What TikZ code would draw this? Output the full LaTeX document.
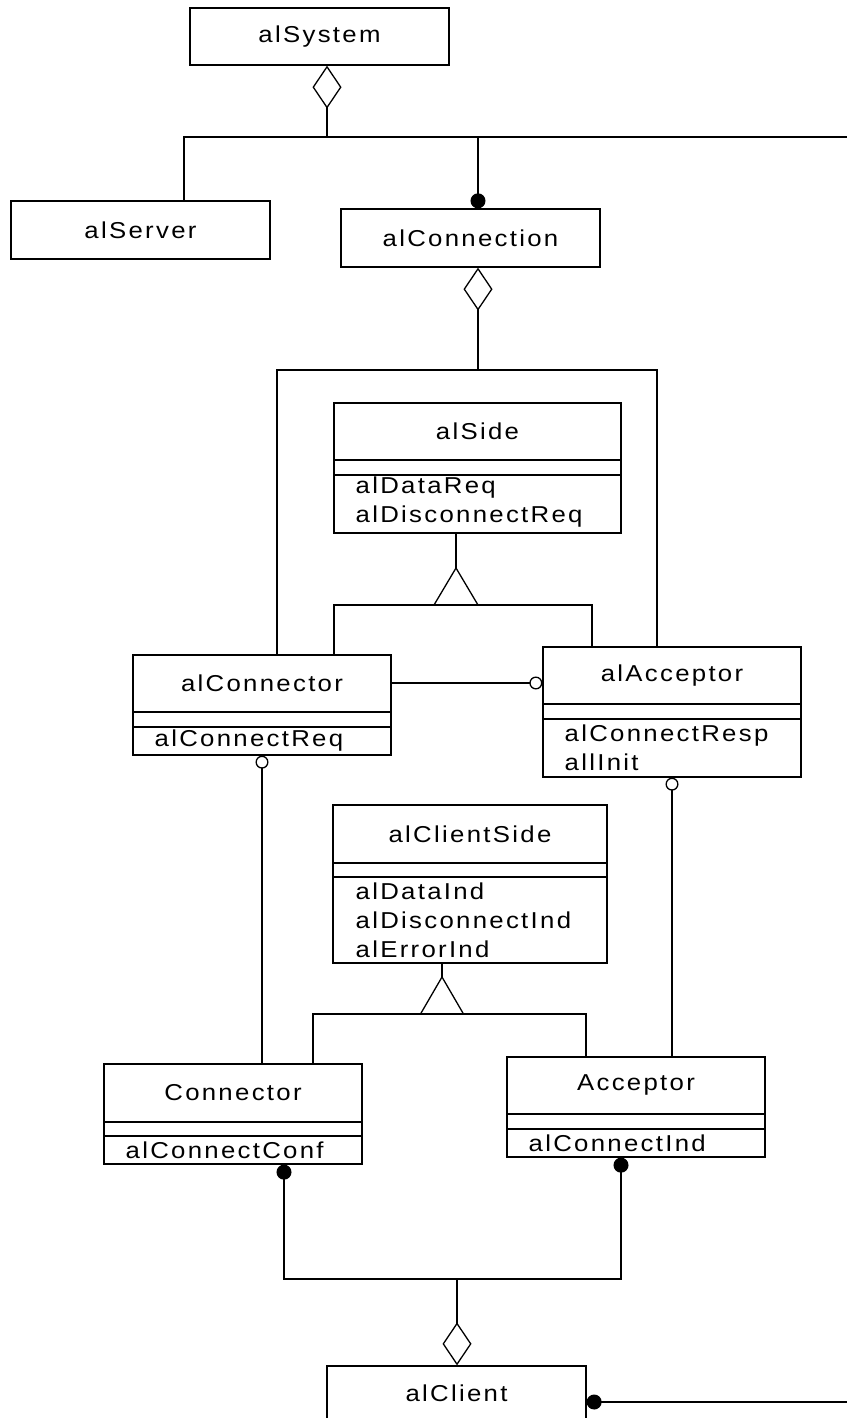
\documentclass[tikz,border=0pt]{standalone}
\usepackage{fontspec}
\setmainfont{Liberation Sans}[FakeStretch=1.12, LetterSpace=10]
\usetikzlibrary{arrows.meta}

\tikzset{
	umlbox/.style={draw, inner sep=0pt},
	opslist/.style={anchor=west, align=left, inner sep=0pt},
	aggr/.style={{Diamond[open,length=43pt,width=29pt]}-},
	comp/.style={{Circle[length=15pt,width=15pt]}-},
	dots/.style={{Circle[length=15pt,width=15pt]}-{Circle[length=15pt,width=15pt]}},
	assoc/.style={{Circle[open,length=13pt,width=13pt]}-},
}

\begin{document}
\begin{tikzpicture}[x=1pt, y=-1pt, line width=1.3pt, font=\fontsize{23}{29}\selectfont]
	\path[use as bounding box, clip] (0,0) rectangle (847,1418);

	% Nodes
	\node[umlbox, minimum width=259, minimum height=57] (sys) at (319.5,36.5) {alSystem};
	\node[umlbox, minimum width=259, minimum height=58] (srv) at (140.5,230) {alServer};
	\node[umlbox, minimum width=259, minimum height=58] (con) at (470.5,238) {alConnection};

	\node[umlbox, minimum width=287, minimum height=130] (side) at (477.5,468) {};
	\node (side-t) at (477.5,431) {alSide};
	\node[opslist] (side-o) at (355,502.5) {alDataReq\\alDisconnectReq};

	\node[umlbox, minimum width=258, minimum height=100] (ctor) at (262,705) {};
	\node (ctor-t) at (262,683) {alConnector};
	\node[opslist] (ctor-o) at (154,741) {alConnectReq};

	\node[umlbox, minimum width=258, minimum height=130] (acc) at (672,712) {};
	\node (acc-t) at (672,676) {alAcceptor};
	\node[opslist] (acc-o) at (564,747.5) {alConnectResp\\allInit};

	\node[umlbox, minimum width=274, minimum height=158] (cside) at (470,884) {};
	\node (cside-t) at (470,834) {alClientSide};
	\node[opslist] (cside-o) at (355,920) {alDataInd\\alDisconnectInd\\alErrorInd};

	\node[umlbox, minimum width=258, minimum height=100] (cctor) at (233,1114) {};
	\node (cctor-t) at (233,1093) {Connector};
	\node[opslist] (cctor-o) at (125,1150) {alConnectConf};

	\node[umlbox, minimum width=258, minimum height=100] (cacc) at (636,1107) {};
	\node (cacc-t) at (636,1085) {Acceptor};
	\node[opslist] (cacc-o) at (528,1143) {alConnectInd};

	\node[umlbox, minimum width=259, minimum height=72] (cli) at (456.5,1402) {};
	\node (cli-t) at (456.5,1393) {alClient};

	% Compartments
	\foreach \b/\ya/\yb in {side/460/475, ctor/712/727, acc/704/719, cside/863/877, cctor/1122/1136, cacc/1114/1129}
		\draw (\b.west |- 0,\ya) -- (\b.east |- 0,\ya) (\b.west |- 0,\yb) -- (\b.east |- 0,\yb);

	% Junctions
	\coordinate (top) at (327,137);
	\coordinate (topL) at (184,137);
	\coordinate (topC) at (478,137);
	\coordinate (topR) at (847,137);
	\coordinate (mid) at (478,370);
	\coordinate (midL) at (277,370);
	\coordinate (midR) at (657,370);
	\coordinate (g1) at (456,568);
	\coordinate (g1L) at (334,605);
	\coordinate (g1R) at (592,605);
	\coordinate (g2) at (442,977);
	\coordinate (g2L) at (313,1014);
	\coordinate (g2R) at (586,1014);
	\coordinate (botL) at (284,1279);
	\coordinate (botR) at (621,1279);
	\coordinate (bot) at (457,1279);
	\coordinate (cliR) at (847,1402);

	% Arrows
	\draw[aggr] (sys.south -| top) -- (top);
	\draw (srv.north -| topL) -- (topL) -- (topR);
	\draw[comp] (con.north -| topC) -- (topC);
	\draw[aggr] (con.south -| mid) -- (mid);
	\draw (ctor.north -| midL) -- (midL) -- (midR) -- (acc.north -| midR);

	\draw (side.south -| g1) -- (g1);
	\draw (g1) -- ++(-22,37) (g1) -- ++(22,37);
	\draw (ctor.north -| g1L) -- (g1L) -- (g1R) -- (acc.north -| g1R);
	\draw[-{Circle[open,length=13pt,width=13pt]}] (ctor-t -| ctor.east) -- (ctor-t -| acc.west);

	\draw[assoc] (ctor.south) -- (ctor.south |- cctor.north);
	\draw[assoc] (acc.south) -- (acc.south |- cacc.north);

	\draw (cside.south -| g2) -- (g2);
	\draw (g2) -- ++(-21.5,37) (g2) -- ++(21.5,37);
	\draw (cctor.north -| g2L) -- (g2L) -- (g2R) -- (cacc.north -| g2R);

	\draw[dots] (cctor.south -| botL) -- (botL) -- (botR) -- (cacc.south -| botR);
	\draw[aggr] (cli.north -| bot) -- (bot);
	\draw[comp] (cli.east) -- (cliR);
\end{tikzpicture}
\end{document}
